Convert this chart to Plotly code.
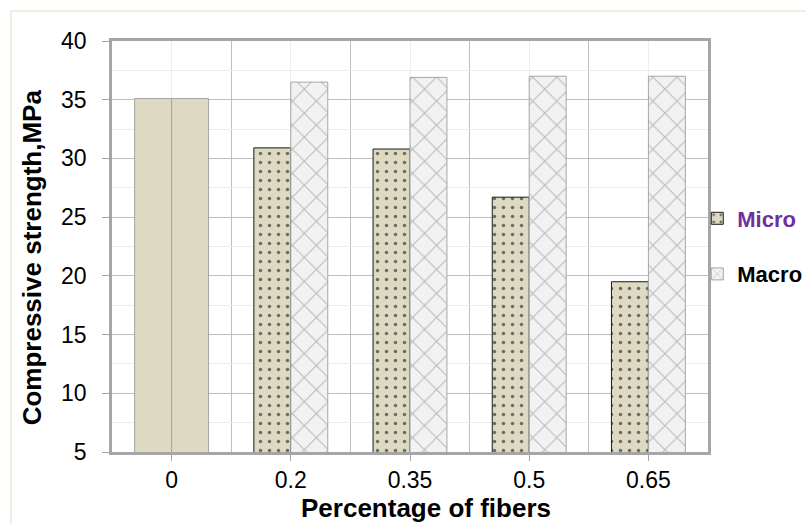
import plotly.graph_objects as go

# Compressive strength (MPa) for each fibre dosage (%)
fiber_pct = ["0", "0.2", "0.35", "0.5", "0.65"]
micro = [35.1, 30.9, 30.8, 26.7, 19.5]
macro = [35.1, 36.5, 36.9, 37.0, 37.0]
y_ticks = [5, 10, 15, 20, 25, 30, 35, 40]

FONT = "Liberation Sans, Arial, sans-serif"
BEIGE = "#ddd9c3"
LIGHT = "#f2f2f2"
AXIS = "#a6a6a6"
GRID = "#bfbfbf"
GRID_MINOR = "#ededed"

idx = list(range(len(fiber_pct)))

fig = go.Figure()

# plain-mix reference bars (0 % fibre), drawn without hatching
fig.add_trace(go.Bar(
    x=idx[:1], y=micro[:1], offsetgroup="micro", showlegend=False,
    marker=dict(color=BEIGE, line=dict(color=AXIS, width=1)),
))
fig.add_trace(go.Bar(
    x=idx[:1], y=macro[:1], offsetgroup="macro", showlegend=False,
    marker=dict(color=BEIGE, line=dict(color=AXIS, width=1)),
))

# fibre-reinforced mixes
fig.add_trace(go.Bar(
    x=idx[1:], y=micro[1:], offsetgroup="micro", legendgroup="micro",
    name="<b><span style='color:#7030a0'>Micro</span></b>",
    marker=dict(
        color=BEIGE, line=dict(color="#1a1a1a", width=1),
        pattern=dict(shape=".", fgcolor="#000000", bgcolor=BEIGE,
                     size=9, solidity=0.12, fillmode="overlay"),
    ),
))
fig.add_trace(go.Bar(
    x=idx[1:], y=macro[1:], offsetgroup="macro", legendgroup="macro",
    name="<b>Macro</b>",
    marker=dict(
        color=LIGHT, line=dict(color=AXIS, width=1),
        pattern=dict(shape="x", fgcolor="#7f7f7f", bgcolor=LIGHT,
                     size=17, solidity=0.12, fillmode="overlay"),
    ),
))

fig.update_layout(
    width=806, height=524,
    margin=dict(l=112, r=98, t=41, b=72, autoexpand=False),
    paper_bgcolor="white", plot_bgcolor="white",
    font=dict(family=FONT, size=23, color="#000000"),
    barmode="group", bargap=0.38, bargroupgap=0,
    showlegend=True,
    legend=dict(
        x=0.982, y=0.5, xanchor="left", yanchor="middle",
        font=dict(family=FONT, size=22, color="#000000"),
        tracegroupgap=24, itemwidth=30, bgcolor="rgba(0,0,0,0)",
    ),
    xaxis=dict(
        range=[-0.5, len(fiber_pct) - 0.5],
        tickmode="array", tickvals=idx, ticktext=fiber_pct,
        showgrid=True, gridcolor=GRID_MINOR, gridwidth=1,
        minor=dict(tickmode="linear", tick0=-0.5, dtick=1,
                   showgrid=True, gridcolor=GRID, gridwidth=1, ticks=""),
        showline=True, linecolor=AXIS, linewidth=2.5, mirror=True,
        ticks="outside", ticklen=6, tickcolor=AXIS, tickwidth=1,
        zeroline=False,
        tickfont=dict(family=FONT, size=23, color="#000000"),
    ),
    yaxis=dict(
        range=[5, 40], tickmode="array", tickvals=y_ticks,
        showgrid=True, gridcolor=GRID, gridwidth=1,
        minor=dict(tickmode="linear", tick0=0, dtick=2.5,
                   showgrid=True, gridcolor=GRID_MINOR, gridwidth=1, ticks=""),
        showline=True, linecolor=AXIS, linewidth=2.5, mirror=True,
        ticks="outside", ticklen=7, tickcolor=AXIS, tickwidth=1,
        ticklabelstandoff=11,
        zeroline=False,
        tickfont=dict(family=FONT, size=23, color="#000000"),
    ),
    annotations=[
        dict(text="<b>Percentage of fibers</b>", xref="paper", yref="paper",
             x=0.527, y=-0.136, xanchor="center", yanchor="middle",
             showarrow=False, font=dict(family=FONT, size=26, color="#000000")),
        dict(text="<b>Compressive strength,MPa</b>", xref="paper", yref="paper",
             x=-0.134, y=0.474, xanchor="center", yanchor="middle",
             textangle=-90, showarrow=False,
             font=dict(family=FONT, size=26, color="#000000")),
    ],
    shapes=[
        # outer chart-area frame
        dict(type="rect", xref="paper", yref="paper", layer="below",
             x0=-0.1695, y0=1.073, x1=1.25, y1=-0.3,
             line=dict(color="#ebe7d8", width=1.5), fillcolor="rgba(0,0,0,0)"),
    ],
)

fig.write_html("out.html")
